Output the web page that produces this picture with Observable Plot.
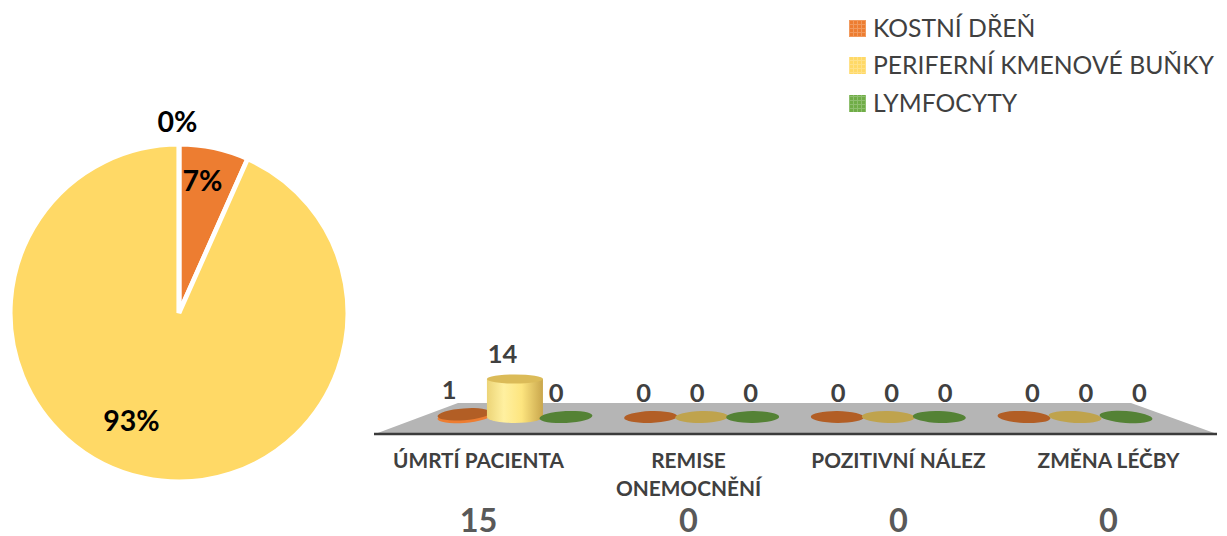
<!DOCTYPE html>
<html>
<head>
<meta charset="utf-8">
<style>
html,body{margin:0;padding:0;background:#fff}
svg{display:block}
</style>
<script src="https://cdn.jsdelivr.net/npm/d3@7"></script>
<script src="https://cdn.jsdelivr.net/npm/@observablehq/plot@0.6"></script>
</head>
<body>
<div id="chart"></div>
<script>
const categories = ["ÚMRTÍ PACIENTA", "REMISE ONEMOCNĚNÍ", "POZITIVNÍ NÁLEZ", "ZMĚNA LÉČBY"];
const series = ["KOSTNÍ DŘEŇ", "PERIFERNÍ KMENOVÉ BUŇKY", "LYMFOCYTY"];
const colors = ["#ed7d31", "#ffd966", "#70ad47"];
const kostniDren = [1, 0, 0, 0];
const periferni = [14, 0, 0, 0];
const lymfocyty = [0, 0, 0, 0];
const totals = [15, 0, 0, 0];

const seriesValues = [kostniDren, periferni, lymfocyty];
const rows = series.flatMap((s, i) => categories.map((c, j) => ({category: c, series: s, si: i, value: seriesValues[i][j]})));
const pieValues = seriesValues.map(v => v[0]);
const pieTotal = d3.sum(pieValues);
const FONT = "Lato, 'Open Sans', sans-serif";
const NS = "http://www.w3.org/2000/svg";
const el = (name, attrs, parent) => {
  const e = document.createElementNS(NS, name);
  for (const k in attrs) e.setAttribute(k, attrs[k]);
  if (parent) parent.appendChild(e);
  return e;
};
const shade = (c, t) => { const r = d3.rgb(c); return d3.rgb(r.r * t, r.g * t, r.b * t).formatRgb(); };

// floor of the 3D chart plus its base line
function floorMark(index, scales, values, dims) {
  const g = el("g", {});
  const yb = dims.height - dims.marginBottom;
  el("path", {d: "M458,403H1131L1217," + yb + "H375Z", fill: "#b5b5b5"}, g);
  el("line", {x1: 374, x2: 1217, y1: yb, y2: yb, stroke: "#3b3b3b", "stroke-width": 2.5}, g);
  return g;
}

// cylinders standing on the floor, projected from the axis scale
function cylinderMark(index, scales) {
  const g = el("g", {});
  const defs = el("defs", {}, g);
  const grad = el("linearGradient", {id: "cyl", x1: 0, x2: 1, y1: 0, y2: 0}, defs);
  [[0, "#ecd477"], [0.3, "#fff0a0"], [0.62, "#fde57f"], [1, "#c9a64c"]].forEach(([o, c]) =>
    el("stop", {offset: o, "stop-color": c}, grad));
  const bw = scales.x(categories[1]) - scales.x(categories[0]);
  for (const d of rows) {
    const axisX = scales.x(d.category) + bw / 2;
    const cx = 90 + 0.889 * axisX + (d.si - 1) * 51;
    const c = scales.color(d.series);
    const y0 = scales.y(0), y1 = scales.y(d.value);
    const tilt = (cx - 800) * 0.013;
    const rx = 26.5, ry = 5.9;
    const tr = (y) => `rotate(${tilt} ${cx} ${y})`;
    if (d.value > 5) {
      const r2 = 28;
      el("path", {d: `M${cx - r2},${y1}V${y0}A${r2},${ry} 0 0 0 ${cx + r2},${y0}V${y1}Z`, fill: "url(#cyl)"}, g);
      el("ellipse", {cx, cy: y1, rx: r2, ry: 4.6, fill: shade(c, 0.86)}, g);
    } else {
      if (d.value > 0) el("ellipse", {cx, cy: y0, rx, ry, fill: c, transform: tr(y0)}, g);
      el("ellipse", {cx, cy: y1, rx, ry, fill: shade(c, 0.75), transform: tr(y1)}, g);
    }
  }
  // value labels sit on the rear plane
  for (const d of rows) {
    const axisX = scales.x(d.category) + bw / 2;
    const t = el("text", {
      x: 60 + 0.926 * axisX + (d.si - 1) * 53.5,
      y: 392 - 2.79 * d.value,
      "text-anchor": "middle", "dominant-baseline": "central",
      "font-family": FONT, "font-weight": 700, "font-size": 25.5, fill: "#404040"
    }, g);
    t.textContent = d.value;
  }
  return g;
}

const PIE = {cx: 179, cy: 313, r: 168.8};
function pieMark(index, scales) {
  const g = el("g", {transform: `translate(${PIE.cx},${PIE.cy})`});
  const arcs = d3.pie().sort(null)(pieValues);
  const arc = d3.arc().innerRadius(0).outerRadius(PIE.r);
  arcs.forEach((a, i) => {
    el("path", {d: arc(a), fill: scales.color(series[i]), stroke: "#fff", "stroke-width": 4.7, "stroke-linejoin": "miter"}, g);
  });
  return g;
}

function swatchMark(index, scales) {
  const g = el("g", {});
  const defs = el("defs", {}, g);
  series.forEach((s, i) => {
    const c = scales.color(s);
    const p = el("pattern", {id: "sw" + i, width: 4, height: 4, patternUnits: "userSpaceOnUse", x: 849, y: 20}, defs);
    el("rect", {width: 4, height: 4, fill: c}, p);
    el("path", {d: "M0,.5H4M.5,0V4", stroke: d3.interpolateRgb(c, "#fff")(0.22), "stroke-width": 1}, p);
    el("rect", {x: 849, y: [20, 57, 95][i], width: 17, height: 17, fill: `url(#sw${i})`}, g);
  });
  return g;
}

const pieLabels = pieValues.map(v => d3.format(".0%")(v / pieTotal));
const pieLabelPos = [[202, 181], [131, 421], [177, 122]];
const legendY = [29, 66, 104];

const figure = Plot.plot({
  width: 1227,
  height: 536,
  marginTop: 0, marginLeft: 0, marginRight: 0, marginBottom: 102,
  style: {fontFamily: FONT, background: "#fff"},
  x: {type: "band", domain: categories, range: [373, 1213], padding: 0, axis: null},
  y: {domain: [0, 14], range: [417, 379], axis: null},
  color: {domain: series, range: colors},
  marks: [
    floorMark,
    cylinderMark,
    pieMark,
    swatchMark,
    ...pieLabels.map((label, i) => Plot.text([label], {
      frameAnchor: "top-left", dx: pieLabelPos[i][0], dy: pieLabelPos[i][1],
      text: d => d, textAnchor: "middle", lineAnchor: "middle",
      fontSize: 28.5, fontWeight: 700, fill: "#000"
    })),
    ...series.map((s, i) => Plot.text([s], {
      frameAnchor: "top-left", dx: 872.5, dy: legendY[i],
      text: d => d, textAnchor: "start", lineAnchor: "middle",
      fontSize: 24.7, fill: "#404040"
    })),
    Plot.axisX({
      anchor: "bottom", tickSize: 0, tickPadding: 12.5, label: null,
      lineWidth: 11, lineHeight: 1.39, fontSize: 20.8, fontWeight: 700, color: "#404040"
    }),
    Plot.text(categories, {
      x: (d) => d, frameAnchor: "bottom", dy: 87,
      text: (d, i) => String(totals[i]), lineAnchor: "middle",
      fontSize: 32.5, fontWeight: 700, fill: "#595959"
    })
  ]
});
document.getElementById("chart").appendChild(figure);
</script>
</body>
</html>
